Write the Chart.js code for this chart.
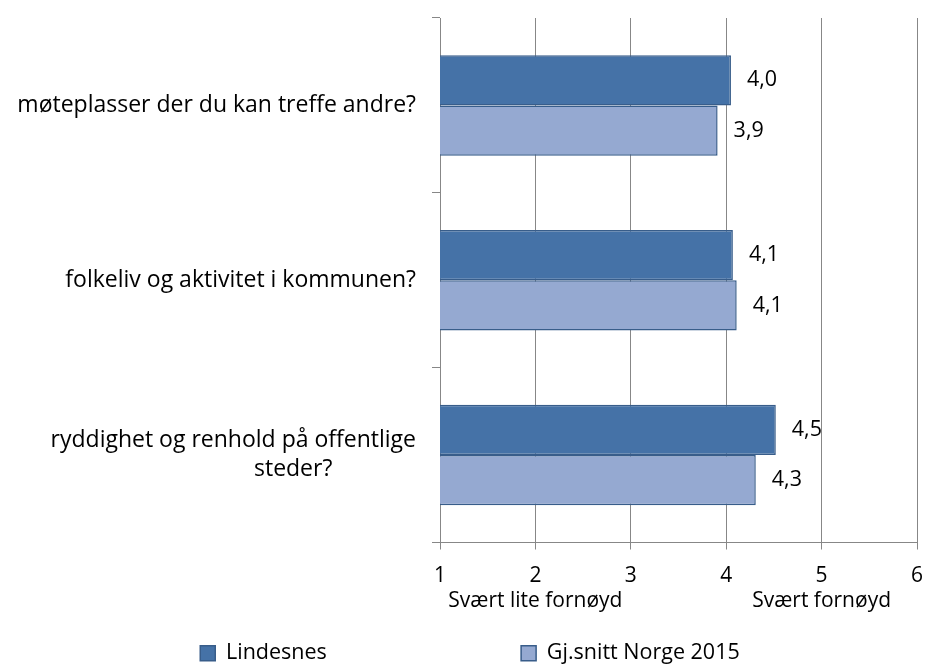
<!DOCTYPE html>
<html>
<head>
<meta charset="utf-8">
<script src="https://cdn.jsdelivr.net/npm/chart.js@4/dist/chart.umd.min.js"></script>
<style>
  html, body { margin: 0; padding: 0; background: #fff; }
  #wrap { width: 928px; height: 671px; }
</style>
</head>
<body>
<div id="wrap"><canvas id="chart" width="928" height="671"></canvas></div>
<script>
const categories = [
    'møteplasser der du kan treffe andre?',
    'folkeliv og aktivitet i kommunen?',
    ['ryddighet og renhold på offentlige', 'steder?              ']
];
const lindesnes = [4.05, 4.07, 4.52];
const norge2015 = [3.91, 4.11, 4.31];
const seriesNames = ['Lindesnes', 'Gj.snitt Norge 2015'];
const xTicks = { 1: '1', 2: ['2', 'Svært lite fornøyd'], 3: '3', 4: '4', 5: ['5', 'Svært fornøyd'], 6: '6' };

const FONT = '"Open Sans", "Liberation Sans", sans-serif';
const GRID = '#878787';

const valueLabels = {
    id: 'valueLabels',
    afterDatasetsDraw( chart ) {
        const ctx = chart.ctx;
        ctx.save();
        ctx.font = '21.5px ' + FONT;
        ctx.fillStyle = '#000';
        ctx.textAlign = 'left';
        ctx.textBaseline = 'middle';
        chart.data.datasets.forEach( ( ds, i ) => {
            chart.getDatasetMeta( i ).data.forEach( ( bar, j ) => {
                ctx.fillText( ds.data[ j ].toFixed( 1 ).replace( '.', ',' ), bar.x + 16, bar.y );
            } );
        } );
        ctx.restore();
    }
};

new Chart( document.getElementById( 'chart' ), {
    type: 'bar',
    data: {
        labels: categories,
        datasets: [
            {
                label: seriesNames[ 0 ] + ' '.repeat( 33 ),
                data: lindesnes,
                backgroundColor: '#4572a7',
                borderColor: '#385d8a',
                borderWidth: 1.5,
                categoryPercentage: 0.575,
                barPercentage: 1
            },
            {
                label: seriesNames[ 1 ],
                data: norge2015,
                backgroundColor: '#95a9d1',
                borderColor: '#385d8a',
                borderWidth: 1.5,
                categoryPercentage: 0.575,
                barPercentage: 1
            }
        ]
    },
    options: {
        indexAxis: 'y',
        responsive: false,
        animation: false,
        layout: { padding: { top: 18, right: 0, left: 12, bottom: -3 } },
        plugins: {
            legend: {
                position: 'bottom',
                labels: {
                    boxWidth: 15,
                    boxHeight: 15,
                    padding: 10,
                    color: '#000',
                    font: { family: FONT, size: 21.5 }
                }
            },
            tooltip: { enabled: false }
        },
        scales: {
            x: {
                min: 1,
                max: 6,
                ticks: {
                    stepSize: 1,
                    color: '#000',
                    padding: 14,
                    maxRotation: 0,
                    minRotation: 0,
                    autoSkip: false,
                    font: { family: FONT, size: 21, lineHeight: 1.2 },
                    callback: v => xTicks[ v ]
                },
                grid: { color: GRID, tickLength: 7 },
                border: { color: GRID },
                afterFit: s => { s.height = 90; s.paddingLeft = 0; s.paddingRight = 11; }
            },
            y: {
                ticks: {
                    color: '#000',
                    padding: 16,
                    font: { family: FONT, size: 23, lineHeight: 1.25 }
                },
                grid: { color: GRID, offset: true, drawOnChartArea: false, tickLength: 8 },
                border: { color: GRID },
                afterFit: s => { s.width = 428; s.paddingTop = 0; s.paddingBottom = 0; }
            }
        }
    },
    plugins: [ valueLabels ]
} );
</script>
</body>
</html>
